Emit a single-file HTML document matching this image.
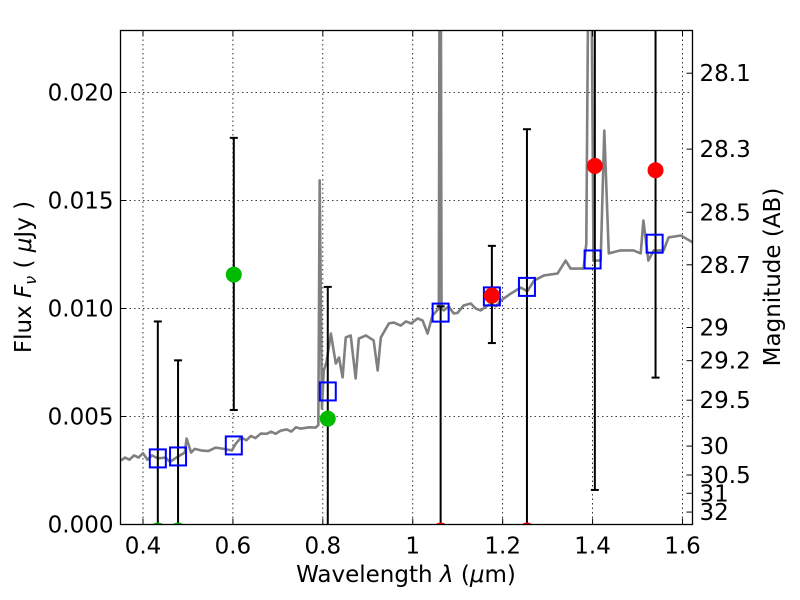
<!DOCTYPE html>
<html><head><meta charset="utf-8"><style>body{margin:0;background:#fff}svg{display:block;font-family:"DejaVu Sans","Liberation Sans",sans-serif}</style></head>
<body>
<svg id="chart" width="800" height="600" viewBox="0 0 800 600" xmlns="http://www.w3.org/2000/svg">
<rect x="0" y="0" width="800" height="600" fill="#fff"/>
<g id="grid"></g>
<g id="plot"></g>
<rect x="120.5" y="30.5" width="572" height="494" fill="none" stroke="#000" stroke-width="1.3"/>
<g id="axes"></g>
<text x="406" y="582" font-size="23" text-anchor="middle">Wavelength  <tspan font-style="italic">λ</tspan> (<tspan font-style="italic">μ</tspan>m)</text>
<text transform="translate(31,277) rotate(-90)" font-size="23" text-anchor="middle">Flux  <tspan font-style="italic">F</tspan><tspan font-style="italic" font-size="16" dy="5">ν</tspan><tspan dy="-5">  ( </tspan><tspan font-style="italic">μ</tspan>Jy )</text>
<text transform="translate(780,277) rotate(-90)" font-size="23" text-anchor="middle">Magnitude (AB)</text>
</svg>
<script>
const specWave=[0.351,0.36,0.37,0.38,0.39,0.40,0.41,0.42,0.433,0.45,0.46,0.478,0.493,0.497,0.507,0.515,0.529,0.545,0.562,0.58,0.598,0.605,0.618,0.63,0.64,0.65,0.662,0.675,0.685,0.695,0.707,0.72,0.73,0.74,0.751,0.77,0.784,0.79,0.793,0.798,0.802,0.808,0.818,0.824,0.829,0.836,0.844,0.851,0.862,0.873,0.880,0.896,0.913,0.922,0.929,0.947,0.958,0.973,0.985,0.996,1.011,1.022,1.033,1.044,1.058,1.060,1.062,1.064,1.069,1.08,1.091,1.10,1.113,1.129,1.14,1.151,1.173,1.185,1.196,1.218,1.240,1.255,1.270,1.292,1.322,1.340,1.351,1.380,1.386,1.392,1.396,1.402,1.418,1.426,1.436,1.462,1.491,1.507,1.513,1.524,1.536,1.558,1.569,1.596,1.623];
const specFlux=[0.00296,0.0031,0.0030,0.0032,0.0031,0.0033,0.0030,0.0032,0.00306,0.0031,0.0029,0.00315,0.00333,0.00398,0.00333,0.0035,0.00343,0.0034,0.00356,0.0035,0.00343,0.0037,0.00403,0.0039,0.0041,0.0040,0.00421,0.0042,0.0043,0.0042,0.00435,0.0044,0.0043,0.0045,0.00444,0.0045,0.00449,0.0046,0.01593,0.00537,0.00713,0.0075,0.00884,0.00806,0.00745,0.00773,0.00681,0.00866,0.00875,0.00676,0.00861,0.00875,0.00852,0.00713,0.00866,0.00931,0.00935,0.00921,0.0094,0.00931,0.00954,0.00944,0.00884,0.00968,0.0100,0.03,0.03,0.0100,0.00991,0.0101,0.00977,0.0098,0.01014,0.01023,0.0100,0.00991,0.01023,0.0101,0.01037,0.01069,0.01097,0.0108,0.0113,0.01153,0.01162,0.01222,0.01185,0.01185,0.01301,0.03,0.03,0.01222,0.01222,0.01824,0.01255,0.01269,0.01269,0.01255,0.01407,0.01222,0.01269,0.01269,0.01329,0.01338,0.01306];
const modelWave=[0.433,0.478,0.602,0.811,1.062,1.176,1.254,1.40,1.538];
const modelFlux=[0.00306,0.00315,0.00366,0.00616,0.00981,0.01056,0.0110,0.01227,0.0130];
const obsWave=[0.433,0.478,0.602,0.811,1.062,1.176,1.254,1.405,1.54];
const obsFlux=[0,0,0.01157,0.0049,0,0.0106,0,0.0166,0.0164];
const obsLow=[0,0,0.0053,0,0,0.0084,0,0.0016,0.0068];
const obsHigh=[0.0094,0.0076,0.0179,0.011,0.0101,0.0129,0.0183,0.03,0.03];
const obsColor=['#00bb00','#00bb00','#00bb00','#00bb00','#ff0000','#ff0000','#ff0000','#ff0000','#ff0000'];
const xTicks=[0.4,0.6,0.8,1.0,1.2,1.4,1.6];
const xTickLabels=['0.4','0.6','0.8','1','1.2','1.4','1.6'];
const yTicks=[0,0.005,0.01,0.015,0.02];
const yTickLabels=['0.000','0.005','0.010','0.015','0.020'];
const magTicks=[28.1,28.3,28.5,28.7,29,29.2,29.5,30,30.5,31,32];
const magTickLabels=['28.1','28.3','28.5','28.7','29','29.2','29.5','30','30.5','31','32'];
const L=120.5,R=692.5,T=30.5,B=524.5,xmin=0.35,xmax=1.6222,ymin=0,ymax=0.02287;
const X=v=>L+(v-xmin)/(xmax-xmin)*(R-L);
const Y=v=>B-(v-ymin)/(ymax-ymin)*(B-T);
const NS='http://www.w3.org/2000/svg';
function mk(tag,attrs,parent){const e=document.createElementNS(NS,tag);for(const k in attrs)e.setAttribute(k,attrs[k]);parent.appendChild(e);return e;}
const grid=document.getElementById('grid'),plot=document.getElementById('plot'),axes=document.getElementById('axes');
xTicks.forEach((t,i)=>{
 const g=mk('line',{x1:X(t),x2:X(t),y1:T,y2:B,stroke:'#000','stroke-width':0.8,'stroke-dasharray':'1.5,3'},grid);
 
 
 mk('line',{x1:X(t),x2:X(t),y1:B,y2:B-6,stroke:'#000'},axes);
 mk('line',{x1:X(t),x2:X(t),y1:T,y2:T+6,stroke:'#000'},axes);
 const tx=mk('text',{x:X(t),y:B+29,'font-size':23,'text-anchor':'middle'},axes);tx.textContent=xTickLabels[i];
 
 
});
yTicks.forEach((t,i)=>{
 const g=mk('line',{x1:L,x2:R,y1:Y(t),y2:Y(t),stroke:'#000','stroke-width':0.8,'stroke-dasharray':'1.5,3'},grid);
 
 
 mk('line',{x1:L,x2:L+6,y1:Y(t),y2:Y(t),stroke:'#000'},axes);
 const tx=mk('text',{x:L-7,y:Y(t)+8,'font-size':23,'text-anchor':'end'},axes);tx.textContent=yTickLabels[i];
 
 
});
magTicks.forEach((m,i)=>{
 const f=Math.pow(10,(23.9-m)/2.5);const y=Y(f);
 mk('line',{x1:R,x2:R-6,y1:y,y2:y,stroke:'#000'},axes);
 const tx=mk('text',{x:R+7,y:y+8,'font-size':23},axes);tx.textContent=magTickLabels[i];
 
 
});
const clip=mk('clipPath',{id:'pc'},plot);mk('rect',{x:L,y:T,width:R-L,height:B-T},clip);
const pg=mk('g',{'clip-path':'url(#pc)'},plot);
const sp=mk('polyline',{points:specWave.map((w,i)=>X(w)+','+Y(specFlux[i])).join(' '),fill:'none',stroke:'#808080','stroke-width':2.6,'stroke-linejoin':'round'},pg);


obsWave.forEach((w,i)=>{
 const x=X(w);
 const eb=mk('line',{x1:x,x2:x,y1:Y(obsLow[i]),y2:Y(obsHigh[i]),stroke:'#000','stroke-width':2},pg);
 
 
 if(obsLow[i]>0)mk('line',{x1:x-4,x2:x+4,y1:Y(obsLow[i]),y2:Y(obsLow[i]),stroke:'#000','stroke-width':2},pg);
 if(obsHigh[i]<ymax)mk('line',{x1:x-4,x2:x+4,y1:Y(obsHigh[i]),y2:Y(obsHigh[i]),stroke:'#000','stroke-width':2},pg);
});
modelWave.forEach((w,i)=>{
 const b=mk('rect',{x:X(w)-8,y:Y(modelFlux[i])-9,width:16,height:18,fill:'none',stroke:'#0000ff','stroke-width':2},pg);
 
 
});
obsWave.forEach((w,i)=>{
 const isLimit=obsFlux[i]<=0;
 const c=mk('circle',{cx:X(w),cy:isLimit?Y(obsFlux[i])+6:Y(obsFlux[i]),r:8,fill:obsColor[i]},pg);
 
 
});
</script>
</body></html>
